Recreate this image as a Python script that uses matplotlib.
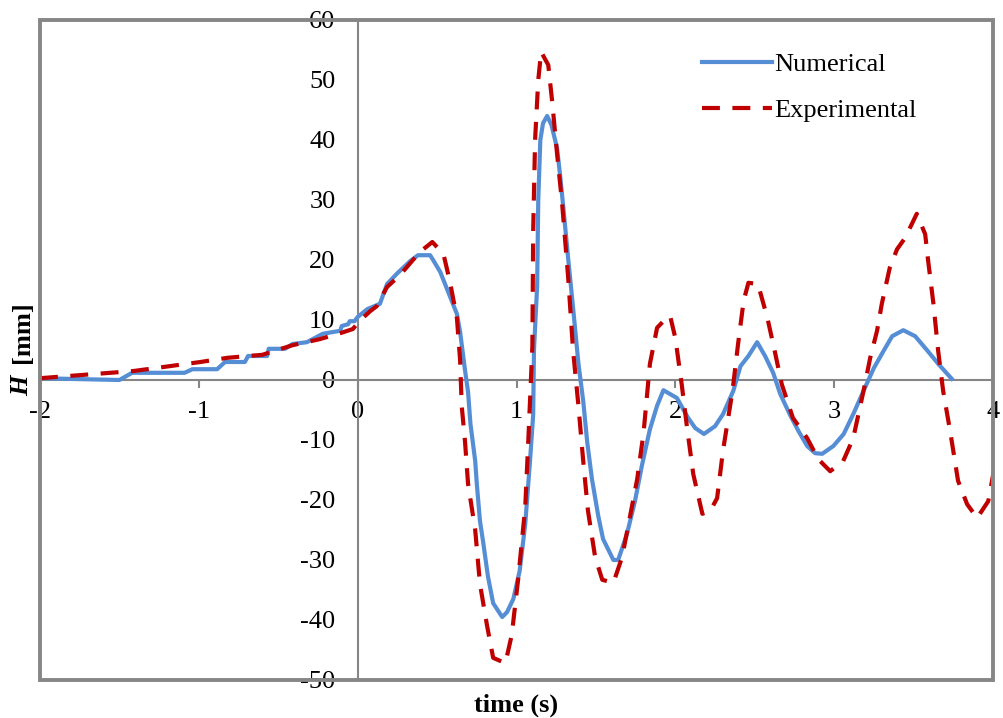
#!/usr/bin/env python3
"""Free-surface elevation H over time: numerical run vs. wave-flume measurement."""

import matplotlib
matplotlib.use("Agg")
import matplotlib.pyplot as plt
from matplotlib.patches import Rectangle

# numerical model output
t_num = [
    -2.0, -1.50, -1.42, -1.09, -1.04, -0.885, -0.835, -0.71, -0.69, -0.57,
    -0.56, -0.457, -0.41, -0.32, -0.22, -0.155, -0.11, -0.10, -0.06, -0.05,
    -0.02, 0.0, 0.06, 0.14, 0.185, 0.25, 0.33, 0.38, 0.456, 0.475,
    0.52, 0.58, 0.625, 0.645, 0.675, 0.695, 0.71, 0.74, 0.75, 0.77,
    0.79, 0.82, 0.853, 0.91, 0.94, 0.98, 1.02, 1.055, 1.085, 1.105,
    1.11, 1.13, 1.137, 1.15, 1.167, 1.193, 1.22, 1.255, 1.275, 1.295,
    1.325, 1.36, 1.39, 1.42, 1.445, 1.475, 1.515, 1.545, 1.61, 1.64,
    1.695, 1.745, 1.79, 1.84, 1.885, 1.925, 2.01, 2.08, 2.125, 2.18,
    2.25, 2.30, 2.365, 2.41, 2.46, 2.515, 2.565, 2.616, 2.66, 2.72,
    2.775, 2.83, 2.88, 2.925, 2.995, 3.06, 3.12, 3.185, 3.25, 3.31,
    3.365, 3.435, 3.51, 3.59, 3.655, 3.74,
]
h_num = [
    0.3, 0.0, 1.2, 1.2, 1.8, 1.8, 3.0, 3.0, 4.0, 4.0,
    5.2, 5.2, 6.0, 6.3, 7.7, 8.0, 8.2, 9.0, 9.3, 9.8,
    9.8, 10.5, 11.8, 12.7, 16.0, 17.8, 19.8, 20.8, 20.8, 20.0,
    18.0, 14.0, 11.0, 8.0, 1.8, -2.0, -7.3, -13.5, -17.3, -23.5,
    -27.0, -32.7, -37.2, -39.5, -38.7, -36.5, -31.8, -24.0, -13.5, -5.8,
    5.0, 15.7, 30.0, 40.0, 42.8, 44.0, 42.5, 38.7, 34.0, 28.7,
    20.3, 11.0, 2.7, -3.5, -10.3, -16.5, -22.7, -26.5, -30.0, -30.0,
    -25.7, -20.3, -14.2, -8.2, -4.3, -1.7, -3.0, -6.3, -8.0, -9.0,
    -7.7, -5.7, -1.8, 2.3, 4.0, 6.3, 4.0, 1.2, -2.3, -5.7,
    -8.5, -11.0, -12.2, -12.3, -11.0, -9.0, -5.7, -1.8, 2.0, 4.8,
    7.3, 8.3, 7.3, 4.8, 2.7, 0.2,
]

# gauge measurement
t_exp = [
    -2.0, -1.41, -0.99, -0.82, -0.60, -0.41, -0.24, -0.11, -0.03, 0.01,
    0.08, 0.12, 0.185, 0.267, 0.39, 0.47, 0.54, 0.58, 0.625, 0.645,
    0.655, 0.676, 0.695, 0.74, 0.77, 0.815, 0.853, 0.93, 0.97, 1.01,
    1.055, 1.075, 1.10, 1.105, 1.117, 1.137, 1.155, 1.20, 1.225, 1.255,
    1.287, 1.325, 1.356, 1.39, 1.42, 1.45, 1.495, 1.54, 1.61, 1.665,
    1.715, 1.76, 1.80, 1.84, 1.885, 1.925, 1.967, 2.0, 2.04, 2.074,
    2.113, 2.17, 2.22, 2.263, 2.30, 2.36, 2.395, 2.43, 2.46, 2.52,
    2.58, 2.63, 2.67, 2.74, 2.83, 2.90, 2.975, 3.057, 3.12, 3.185,
    3.227, 3.27, 3.30, 3.35, 3.396, 3.447, 3.52, 3.573, 3.592, 3.625,
    3.655, 3.686, 3.73, 3.78, 3.837, 3.90, 3.97, 4.01,
]
h_exp = [
    0.3, 1.5, 3.0, 3.7, 4.2, 5.8, 6.8, 7.8, 8.5, 9.8,
    11.5, 12.3, 15.5, 17.5, 21.3, 23.0, 21.0, 16.5, 10.3, 3.3,
    -4.3, -10.3, -17.3, -25.0, -34.0, -41.0, -46.3, -47.2, -42.5, -33.3,
    -21.2, -9.7, 5.7, 24.8, 40.0, 50.0, 54.7, 52.5, 46.3, 37.8,
    29.5, 17.2, 5.0, -4.3, -13.5, -21.8, -29.5, -33.3, -33.8, -29.5,
    -22.7, -16.5, -8.8, 2.7, 8.7, 9.8, 10.7, 7.0, -0.7, -8.0,
    -15.7, -22.3, -21.8, -19.7, -11.8, -1.8, 6.0, 13.2, 16.2, 16.0,
    10.3, 4.3, -0.7, -6.3, -9.7, -13.2, -15.2, -13.5, -9.7, -1.8,
    3.7, 8.2, 12.7, 18.7, 21.8, 23.7, 27.7, 24.3, 19.8, 12.7,
    4.8, -1.8, -8.5, -16.8, -20.7, -23.0, -20.2, -14.5,
]

x_ticks = [-2, -1, 0, 1, 2, 3, 4]
y_ticks = [-50, -40, -30, -20, -10, 0, 10, 20, 30, 40, 50, 60]

BLUE = "#558ED5"
RED = "#C00000"
GREY = "#868686"

plt.rcParams["font.family"] = ["Liberation Serif", "DejaVu Serif"]

fig = plt.figure(figsize=(10.04, 7.18), dpi=100)
W, H = 1004, 718
ax = fig.add_axes([40 / W, 1 - 680 / H, 953 / W, 660 / H])

ax.plot(t_num, h_num, color=BLUE, lw=3.0, label="Numerical", zorder=3,
        solid_joinstyle="round")
ax.plot(t_exp, h_exp, color=RED, lw=3.0, dashes=(4.3, 3.0),
        label="Experimental", zorder=4, dash_joinstyle="round")

ax.set_xlim(-2, 4)
ax.set_ylim(-50, 60)
ax.set_xticks(x_ticks)
ax.set_yticks(y_ticks)
ax.set_xticklabels([str(v) for v in x_ticks])
ax.set_yticklabels([str(v) for v in y_ticks])

# axes cross at the origin, plot area gets its own frame
for side in ("top", "right"):
    ax.spines[side].set_visible(False)
ax.spines["bottom"].set_position(("data", 0))
ax.spines["left"].set_position(("data", 0))
for side in ("bottom", "left"):
    ax.spines[side].set_color(GREY)
    ax.spines[side].set_linewidth(1.5)
    ax.spines[side].set_zorder(2)

ax.tick_params(axis="x", direction="out", length=6, width=1.5, color=GREY,
               labelsize=19, pad=9)
ax.tick_params(axis="y", length=0, labelsize=19, pad=16)

ax.add_patch(Rectangle((0, 0), 1, 1, transform=ax.transAxes, fill=False,
                       edgecolor=GREY, lw=2.8, clip_on=False, zorder=5))

ax.legend(loc="upper left", bbox_to_anchor=((702 - 40) / 953, (680 - 53) / 660),
          frameon=False, fontsize=19, handlelength=2.65, handletextpad=0.1,
          labelspacing=0.83, borderpad=0, borderaxespad=0)

fig.text(516.5 / W, 1 - 705 / H, "time (s)", fontsize=19, fontweight="bold",
         ha="center", va="center")
fig.text(22 / W, 1 - 386 / H, "H", fontsize=19, fontweight="bold",
         fontstyle="italic", rotation=90, ha="center", va="center")
fig.text(22 / W, 1 - 332 / H, "[mm]", fontsize=19, fontweight="bold",
         rotation=90, ha="center", va="center")

fig.savefig("out.png", dpi=100)
